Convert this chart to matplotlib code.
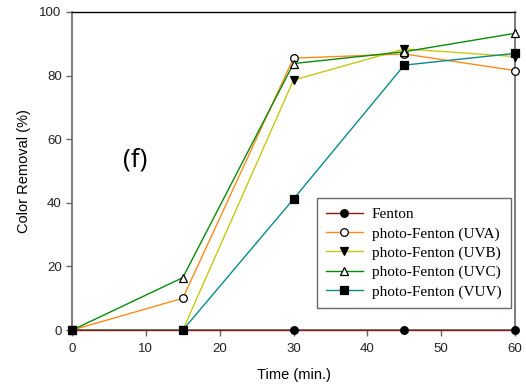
import matplotlib
matplotlib.use("Agg")
import matplotlib.pyplot as plt

time = [0, 15, 30, 45, 60]
fenton = [0, 0, 0, 0, 0]
uva = [0, 10, 85.5, 86.8, 81.6]
uvb = [0, 0, 78.6, 88.4, 86.0]
uvc = [0, 16.5, 83.8, 87.5, 93.3]
vuv = [0, 0, 41.2, 83.3, 87.0]

labels = ["Fenton", "photo-Fenton (UVA)", "photo-Fenton (UVB)",
          "photo-Fenton (UVC)", "photo-Fenton (VUV)"]

fig = plt.figure(figsize=(5.26, 3.87), dpi=100)
ax = fig.add_axes([0.137, 0.147, 0.842, 0.822])

series = [
    (fenton, "#8b1a1a", "o", "black"),
    (uva, "#ff8c1a", "o", "white"),
    (uvb, "#c8c814", "v", "black"),
    (uvc, "#0a8a0a", "^", "white"),
    (vuv, "#0a8a8a", "s", "black"),
]
order = [1, 2, 3, 4, 0]
handles = [None] * 5
for i in order:
    y, c, m, fc = series[i]
    h, = ax.plot(time, y, color=c, lw=1.0, marker=m, markersize=5.5,
                 markerfacecolor=fc, markeredgecolor="black", markeredgewidth=0.9,
                 clip_on=False, zorder=3)
    handles[i] = h

ax.set_xlim(0, 60)
ax.set_ylim(0, 100)
ax.set_xticks([0, 10, 20, 30, 40, 50, 60])
ax.set_yticks([0, 20, 40, 60, 80, 100])
for s in ["left", "right", "bottom"]:
    ax.spines[s].set_color("#666666")
    ax.spines[s].set_linewidth(1.2)
ax.spines["top"].set_color("black")
ax.spines["top"].set_linewidth(1.0)
ax.tick_params(direction="out", length=4, width=1, color="#666666",
               labelsize=9.5, labelcolor="#222222")
ax.tick_params(axis="x", pad=5)
for t in ax.get_xticklabels() + ax.get_yticklabels():
    t.set_fontfamily("Liberation Sans")

ax.set_xlabel("Time (min.)", fontsize=10.5, family="Liberation Sans", labelpad=10)
ax.set_ylabel("Color Removal (%)", fontsize=10.5, family="Liberation Sans", labelpad=6)

ax.text(8.5, 53.5, "(f)", fontsize=19, family="Open Sans", ha="center", va="center")

leg = ax.legend(handles, labels, loc="lower right", bbox_to_anchor=(0.99, 0.07),
                prop={"family": "Liberation Serif", "size": 11},
                frameon=True, fancybox=False, edgecolor="#444444",
                handlelength=2.4, borderpad=0.6, labelspacing=0.36,
                handletextpad=0.6, borderaxespad=0)
leg.get_frame().set_linewidth(1.0)

fig.savefig("out.png", dpi=100)
